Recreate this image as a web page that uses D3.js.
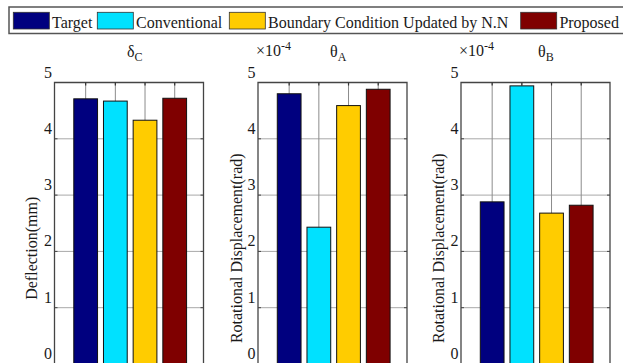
<!DOCTYPE html>
<html>
<head>
<meta charset="utf-8">
<script src="https://cdn.jsdelivr.net/npm/d3@7"></script>
<style>
  html, body { margin: 0; padding: 0; background: #fff; }
  svg { display: block; }
</style>
</head>
<body>
<svg id="chart" width="623" height="363" font-family="'Liberation Serif', 'Times New Roman', Times, 'DejaVu Serif', serif"></svg>
<script>
// ---- data ----
const categories = ["Target", "Conventional", "Boundary Condition Updated by N.N", "Proposed"];
const deflectionC = [4.71, 4.67, 4.33, 4.72];          // mm
const rotationA   = [4.80, 2.43, 4.59, 4.88];          // x10^-4 rad
const rotationB   = [2.88, 4.94, 2.68, 2.82];          // x10^-4 rad
const yTickValues = [0, 1, 2, 3, 4, 5];
const xTickValues = [1, 2, 3, 4];

// ---- style / layout ----
const palette = ["#00007f", "#00e1ff", "#ffcc00", "#7f0000"];
const svg = d3.select("#chart");
const FONT = "'Liberation Serif', 'Times New Roman', Times, 'DejaVu Serif', serif";

const panels = [
  { values: deflectionC, left: 54.5, title: "δ", sub: "C", titleX: 127, ylabel: "Deflection(mm)", ylabelX: 37, scaleNote: false },
  { values: rotationA,   left: 258,  title: "θ", sub: "A", titleX: 330, ylabel: "Rotational Displacement(rad)", ylabelX: 242, scaleNote: true },
  { values: rotationB,   left: 461,  title: "θ", sub: "B", titleX: 538, ylabel: "Rotational Displacement(rad)", ylabelX: 444, scaleNote: true }
];
const plotW = 149, plotTop = 82.5, plotBottom = 364;

const y = d3.scaleLinear().domain([0, 5]).range([plotBottom, plotTop]);

panels.forEach(p => {
  const x = d3.scaleLinear().domain([-0.05, 4.97]).range([p.left, p.left + plotW]);
  const g = svg.append("g");

  // grid
  g.append("g").selectAll("line.h").data(yTickValues).join("line")
    .attr("x1", p.left).attr("x2", p.left + plotW)
    .attr("y1", d => y(d)).attr("y2", d => y(d))
    .attr("stroke", "#a8a8a8").attr("stroke-width", 1);
  g.append("g").selectAll("line.v").data(xTickValues).join("line")
    .attr("x1", d => x(d)).attr("x2", d => x(d))
    .attr("y1", plotTop).attr("y2", plotBottom)
    .attr("stroke", "#8c8c8c").attr("stroke-width", 1);

  // bars
  const bw = x(0.8) - x(0);
  g.append("g").selectAll("rect").data(p.values).join("rect")
    .attr("x", (d, i) => x(xTickValues[i]) - bw / 2)
    .attr("width", bw)
    .attr("y", d => y(d))
    .attr("height", d => y(0) - y(d))
    .attr("fill", (d, i) => palette[i])
    .attr("stroke", "#111").attr("stroke-width", 1);

  // axes box (left, top, right)
  g.append("path")
    .attr("d", `M${p.left},${plotBottom}V${plotTop}H${p.left + plotW}V${plotBottom}`)
    .attr("fill", "none").attr("stroke", "#444").attr("stroke-width", 1.3);

  // inward ticks
  g.append("g").selectAll("line").data(xTickValues).join("line")
    .attr("x1", d => x(d)).attr("x2", d => x(d))
    .attr("y1", plotTop).attr("y2", plotTop + 3)
    .attr("stroke", "#333").attr("stroke-width", 1.2);
  g.append("g").selectAll("line").data(yTickValues).join("line")
    .attr("x1", p.left).attr("x2", p.left + 3)
    .attr("y1", d => y(d)).attr("y2", d => y(d))
    .attr("stroke", "#444");
  g.append("g").selectAll("line").data(yTickValues).join("line")
    .attr("x1", p.left + plotW - 3).attr("x2", p.left + plotW)
    .attr("y1", d => y(d)).attr("y2", d => y(d))
    .attr("stroke", "#444");

  // y tick labels
  g.append("g").selectAll("text").data(yTickValues).join("text")
    .attr("x", p.left - 2.5).attr("y", d => y(d) - 5)
    .attr("text-anchor", "end").attr("font-size", 16)
    .attr("font-family", FONT).attr("fill", "#1a1a1a")
    .text(d => d3.format("d")(d));

  // y label
  g.append("text")
    .attr("transform", `translate(${p.ylabelX},${(plotTop + plotBottom) / 2 + 25}) rotate(-90)`)
    .attr("text-anchor", "middle").attr("font-size", 16)
    .attr("font-family", FONT).attr("fill", "#1a1a1a")
    .text(p.ylabel);

  // title
  const t = g.append("text").attr("x", p.titleX).attr("y", 57).attr("font-size", 16)
    .attr("font-family", FONT).attr("fill", "#1a1a1a");
  t.append("tspan").text(p.title);
  t.append("tspan").attr("font-size", 12).attr("dy", 3.5).text(p.sub);

  if (p.scaleNote) {
    const s = g.append("text").attr("x", p.left - 2).attr("y", 56).attr("font-size", 16)
      .attr("font-family", FONT).attr("fill", "#1a1a1a");
    s.append("tspan").text("×10");
    s.append("tspan").attr("font-size", 12).attr("dy", -6).text("-4");
  }
});

// ---- legend ----
const legend = svg.append("g");
legend.append("rect")
  .attr("x", 9).attr("y", 7).attr("width", 640).attr("height", 26.5)
  .attr("fill", "#fff").attr("stroke", "#555").attr("stroke-width", 1.5);
const swatchX = [13.3, 97.3, 229.3, 520.7];
categories.forEach((c, i) => {
  legend.append("rect")
    .attr("x", swatchX[i]).attr("y", 12.3).attr("width", 36).attr("height", 16.7)
    .attr("fill", palette[i]).attr("stroke", "#333").attr("stroke-width", 0.8);
  legend.append("text")
    .attr("x", swatchX[i] + 38.7).attr("y", 27.5).attr("font-size", 16)
    .attr("font-family", FONT).attr("fill", "#1a1a1a")
    .text(c);
});
</script>
</body>
</html>
